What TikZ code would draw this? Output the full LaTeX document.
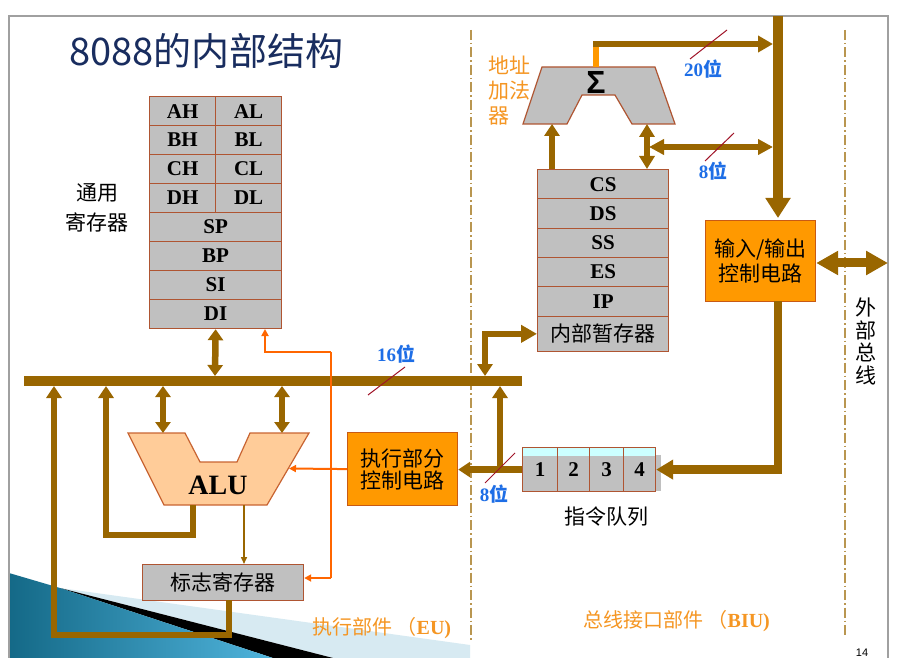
\documentclass[tikz,border=0pt]{standalone}
\usepackage{fontspec}
\setmainfont{Liberation Serif}
\newfontfamily\cjk{Noto Sans CJK SC}
\newfontfamily\arialf{Liberation Sans}
\usetikzlibrary{arrows.meta}
\newcommand\myfs[1]{\fontsize{#1pt}{#1pt}\selectfont}
\definecolor{brn}{RGB}{153,102,0}
\definecolor{regb}{RGB}{175,85,50}
\definecolor{regf}{RGB}{192,192,192}
\definecolor{peach}{RGB}{255,204,153}
\definecolor{aluedge}{RGB}{200,100,50}
\definecolor{ctrlf}{RGB}{255,153,0}
\definecolor{ctrlb}{RGB}{200,90,20}
\definecolor{orng}{RGB}{255,102,0}
\definecolor{lblorange}{RGB}{245,150,35}
\definecolor{bitblue}{RGB}{30,110,230}
\definecolor{slashc}{RGB}{160,20,40}
\definecolor{dashc}{RGB}{185,150,80}
\definecolor{titleblue}{RGB}{25,45,95}
\definecolor{qcyan}{RGB}{204,255,255}
\definecolor{framegray}{RGB}{160,160,160}
\definecolor{tealA}{RGB}{20,105,135}
\definecolor{tealB}{RGB}{80,180,220}
\definecolor{paleblue}{RGB}{215,234,242}
\begin{document}
\begin{tikzpicture}[x=1pt,y=-1pt,
  regcell/.style={draw=regb, fill=regf, line width=1.2pt, inner sep=0pt, anchor=north west, font=\myfs{21}\bfseries},
  cjklabel/.style={font=\cjk\myfs{21}, inner sep=0pt},
  boxlbl/.style={draw=ctrlb, fill=ctrlf, line width=1.2pt, inner sep=0pt, anchor=north west, font=\cjk\myfs{21}, align=center},
  bus/.style={brn, line width=10pt},
  conn/.style={brn, line width=6.5pt},
  arr/.style={conn, -{Triangle[length=12pt,width=15pt]}},
  dblarr/.style={conn, {Triangle[length=11pt,width=15pt]}-{Triangle[length=11pt,width=15pt]}},
  orline/.style={orng, line width=2pt},
  orarr/.style={orline, -{Triangle[length=7pt,width=7pt]}},
  bitlbl/.style={text=bitblue, font=\myfs{19}\bfseries, inner sep=0pt},
  slashline/.style={slashc, line width=1pt},
  divline/.style={dashc, line width=2pt, dash pattern=on 10pt off 3pt on 1.5pt off 3pt},
  partlbl/.style={text=lblorange, font=\myfs{20}, inner sep=0pt}
]
\useasboundingbox (0,0) rectangle (898,658);
\fill[white] (0,0) rectangle (898,658);

% ---- bottom-left slide decoration
\fill[paleblue] (60,588) -- (470,645) -- (470,658) -- (333,658) -- cycle;
\fill[black] (60,588) -- (333,658) -- (273,658) -- cycle;
\shade[left color=tealA, right color=tealB] (9,573) -- (60,588) -- (273,658) -- (9,658) -- cycle;

% ---- slide frame
\draw[framegray, line width=1.5pt] (9,660) -- (9,16) -- (888,16) -- (888,660);
\node[anchor=south, font=\arialf\myfs{11}, inner sep=0pt] (pageno) at (862,657) {14};

% ---- title
\node[anchor=west, font=\cjk\myfs{38}, text=titleblue, inner sep=0pt] (title) at (69,51) {8088的内部结构};

% ---- section dividers
\draw[divline] (471,30) -- (471,640);
\draw[divline] (845,30) -- (845,638);
\node[partlbl, anchor=west] (eu) at (312,628) {{\cjk 执行部件 （}{\bfseries EU)}};
\node[partlbl, anchor=west] (biu) at (583,621) {{\cjk 总线接口部件 （}{\bfseries BIU)}};
\node[cjklabel] (ext1) at (866,307) {外};
\node[cjklabel] (ext2) at (866,330) {部};
\node[cjklabel] (ext3) at (866,352) {总};
\node[cjklabel] (ext4) at (866,375) {线};

% ---- general registers
\node[regcell, minimum width=66pt, minimum height=29pt] (ah) at (149,96) {AH};
\node[regcell, minimum width=66pt, minimum height=29pt] (al) at (215,96) {AL};
\node[regcell, minimum width=66pt, minimum height=29pt] (bh) at (149,125) {BH};
\node[regcell, minimum width=66pt, minimum height=29pt] (bl) at (215,125) {BL};
\node[regcell, minimum width=66pt, minimum height=29pt] (ch) at (149,154) {CH};
\node[regcell, minimum width=66pt, minimum height=29pt] (cl) at (215,154) {CL};
\node[regcell, minimum width=66pt, minimum height=29pt] (dh) at (149,183) {DH};
\node[regcell, minimum width=66pt, minimum height=29pt] (dl) at (215,183) {DL};
\node[regcell, minimum width=132pt, minimum height=29pt] (sp) at (149,212) {SP};
\node[regcell, minimum width=132pt, minimum height=29pt] (bp) at (149,241) {BP};
\node[regcell, minimum width=132pt, minimum height=29pt] (si) at (149,270) {SI};
\node[regcell, minimum width=132pt, minimum height=29pt] (di) at (149,299) {DI};
\node[cjklabel] (gr1) at (97,193) {通用};
\node[cjklabel] (gr2) at (97,222) {寄存器};

% ---- internal bus (16 bit)
\coordinate (busW) at (24,381);
\coordinate (busE) at (522,381);
\draw[bus] (busW) -- (busE);
\node[bitlbl] (b16) at (396,354) {16{\cjk 位}};
\coordinate (s16a) at (368,395);
\coordinate (s16b) at (405,367);
\draw[slashline] (s16a) -- (s16b);

% ---- ALU
\draw[fill=peach, draw=aluedge, line width=1.2pt]
  (128,433) -- (185,433) -- (200,462) -- (237,462) -- (250,433) -- (309,433)
  -- (267,505) -- (164,505) -- cycle;
\node[font=\myfs{28}\bfseries, inner sep=0pt] (alu) at (218,485) {ALU};

% ---- flag register and control unit
\node[regcell, font=\cjk\myfs{21}, minimum width=161pt, minimum height=36pt] (flags) at (142,564) {标志寄存器\hspace{12pt}};
\node[boxlbl, minimum width=110pt, minimum height=73pt] (ctrl) at (347,432) {执行部分\\[1pt]控制电路};

% bus connections EU
\coordinate (bA) at (215,376);
\coordinate (bB) at (163,386);
\coordinate (bC) at (282,386);
\coordinate (bD) at (106,386);
\coordinate (bE) at (54,386);
\coordinate (aluL) at (163,433);
\coordinate (aluR) at (282,433);
\coordinate (aluO) at (193,505);
\coordinate (aluF) at (244,505);
\coordinate (aluE) at (289,468.5);
\coordinate (aluLoop) at (106,535);
\coordinate (flagO) at (229,600);
\coordinate (flagLoop) at (54,635);
\draw[dblarr] (di.south) -- (bA);
\draw[dblarr] (bB) -- (aluL);
\draw[dblarr] (bC) -- (aluR);
\draw[arr] (aluO) |- (aluLoop) -- (bD);
\draw[arr] (flagO) |- (flagLoop) -- (bE);
\draw[brn, line width=1.5pt, -{Triangle[length=7pt,width=6pt]}] (aluF) -- (flags.north -| aluF);

% control signals (orange)
\coordinate (oTop) at (331,352);
\coordinate (oBot) at (331,578);
\coordinate (oBend) at (265,352);
\coordinate (oReg) at (265,329);
\draw[orarr] (ctrl.west) -- (aluE);
\draw[orline] (oTop) -- (oBot);
\draw[orarr] (oTop) -- (oBend) -- (oReg);
\draw[orarr] (oBot) -- (flags.east |- oBot);

% ---- BIU: segment registers
\node[regcell, minimum width=131pt, minimum height=29.3pt] (cs) at (537,169) {CS};
\node[regcell, minimum width=131pt, minimum height=29.3pt] (ds) at (537,198.3) {DS};
\node[regcell, minimum width=131pt, minimum height=29.3pt] (ss) at (537,227.6) {SS};
\node[regcell, minimum width=131pt, minimum height=29.3pt] (es) at (537,256.9) {ES};
\node[regcell, minimum width=131pt, minimum height=29.3pt] (ip) at (537,286.2) {IP};
\node[regcell, font=\cjk\myfs{21}, minimum width=131pt, minimum height=35.5pt] (tmp) at (537,315.5) {内部暂存器};

% ---- address adder
\draw[fill=regf, draw=regb, line width=1.2pt]
  (542,67) -- (655,67) -- (675,124) -- (632,124) -- (615,95) -- (582,95)
  -- (567,124) -- (523,124) -- cycle;
\node[font=\arialf\myfs{32}\bfseries, inner sep=0pt] (sigma) at (596,82) {Σ};
\node[cjklabel, text=lblorange, anchor=west] (ad1) at (488,65) {地址};
\node[cjklabel, text=lblorange, anchor=west] (ad2) at (488,91) {加法};
\node[cjklabel, text=lblorange, anchor=west] (ad3) at (488,116) {器};

% ---- I/O control
\node[boxlbl, minimum width=110pt, minimum height=81pt] (io) at (705,220) {输入/输出\\[3pt]控制电路};

% address / data paths in BIU
\coordinate (sumTop) at (593,44);
\coordinate (sumBar) at (595.5,67);
\coordinate (vb20) at (773,44);
\coordinate (vbTop) at (778,16);
\coordinate (ioT) at (778,218);
\coordinate (ioB) at (778,301);
\coordinate (addBL) at (552,124);
\coordinate (csL) at (552,169);
\coordinate (addBR) at (647,124);
\coordinate (csR) at (647,169);
\coordinate (j8) at (649,147);
\coordinate (vb8) at (773,147);
\coordinate (extR) at (888,263);
\draw[bus, -{Triangle[length=20pt,width=24pt]}] (vbTop) -- (ioT);
\draw[conn, -{Triangle[length=15pt,width=16pt]}] (sumTop) -- (vb20);
\draw[ctrlf, line width=6pt] (sumBar) -- ++(0,-20);
\draw[arr] (csL) -- (addBL);
\draw[conn, {Triangle[length=13pt,width=15pt]}-{Triangle[length=13pt,width=15pt]}] (csR) -- (addBR);
\draw[conn, {Triangle[length=15pt,width=15pt]}-{Triangle[length=15pt,width=15pt]}] (j8) -- (vb8);
\draw[conn, line width=9pt, {Triangle[length=22pt,width=23pt]}-{Triangle[length=22pt,width=23pt]}] (io.east |- extR) -- (extR);
\node[bitlbl] (b20) at (703,69) {20{\cjk 位}};
\coordinate (s20a) at (690,59);
\coordinate (s20b) at (727,30);
\draw[slashline] (s20a) -- (s20b);
\node[bitlbl] (b8a) at (713,171) {8{\cjk 位}};
\coordinate (s8a) at (705,161);
\coordinate (s8b) at (734,133);
\draw[slashline] (s8a) -- (s8b);

% ---- instruction queue
\fill[regf] (623,455) rectangle (661,491);
\node[regcell, font=\myfs{21}\bfseries, minimum width=35pt, minimum height=44pt,
  path picture={\fill[qcyan] (path picture bounding box.north west) rectangle ([yshift=-8pt]path picture bounding box.north east);}] (q1) at (522,447) {\raisebox{-4pt}{1}};
\node[regcell, font=\myfs{21}\bfseries, minimum width=32pt, minimum height=44pt,
  path picture={\fill[qcyan] (path picture bounding box.north west) rectangle ([yshift=-8pt]path picture bounding box.north east);}] (q2) at (557,447) {\raisebox{-4pt}{2}};
\node[regcell, font=\myfs{21}\bfseries, minimum width=34pt, minimum height=44pt,
  path picture={\fill[qcyan] (path picture bounding box.north west) rectangle ([yshift=-8pt]path picture bounding box.north east);}] (q3) at (589,447) {\raisebox{-4pt}{3}};
\node[regcell, font=\myfs{21}\bfseries, minimum width=32pt, minimum height=44pt,
  path picture={\fill[qcyan] (path picture bounding box.north west) rectangle ([yshift=-8pt]path picture bounding box.north east);}] (q4) at (623,447) {\raisebox{-4pt}{4}};
\node[cjklabel] (qlbl) at (606,517) {指令队列};

% queue connections
\coordinate (qj) at (500,469);
\coordinate (bF) at (485,376);
\coordinate (bG) at (500,386);
\draw[conn, line width=8.5pt, -{Triangle[length=17pt,width=19pt]}] (ioB) |- (q4.east);
\draw[arr] (q1.west) -- (ctrl.east |- q1.west);
\draw[arr] (qj) -- (bG);
\draw[conn, {Triangle[length=12pt,width=15pt]}-{Triangle[length=16pt,width=17pt]}] (bF) |- (tmp.west);
\node[bitlbl] (b8b) at (494,494) {8{\cjk 位}};
\coordinate (s8c) at (485,483);
\coordinate (s8d) at (515,453);
\draw[slashline] (s8c) -- (s8d);
\end{tikzpicture}
\end{document}
